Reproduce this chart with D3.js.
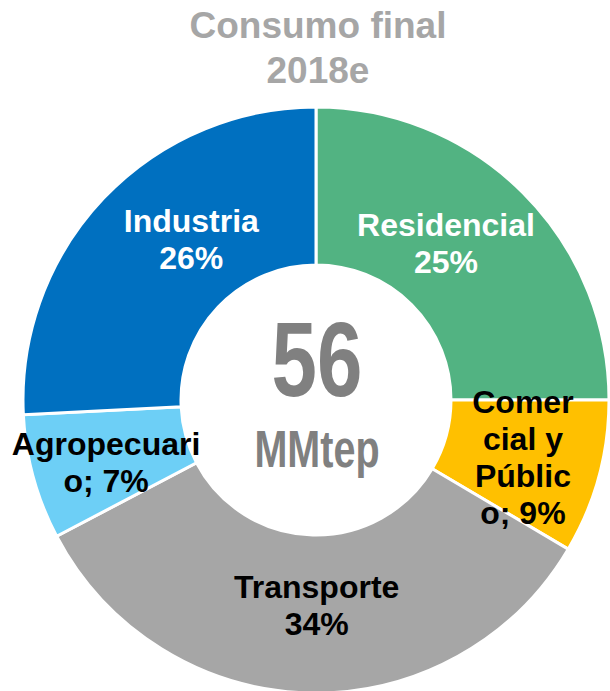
<!DOCTYPE html>
<html>
<head>
<meta charset="utf-8">
<script src="https://cdn.jsdelivr.net/npm/d3@7"></script>
<style>
  body { margin: 0; background: #fff; }
  text { font-family: "Liberation Sans", Arial, sans-serif; font-weight: bold; }
</style>
</head>
<body>
<div id="chart-area"></div>
<script>
// sectores de consumo final 2018e (orden horario desde arriba)
var sectors = ["Residencial", "Comercial y Público", "Transporte", "Agropecuario", "Industria"];
var shares = [25.0, 8.5, 33.8, 6.9, 25.8];
// como se parte cada etiqueta en lineas (la ultima lleva el %)
var labelLines = [["Residencial"], ["Comer", "cial y", "Públic", "o;"], ["Transporte"], ["Agropecuari", "o;"], ["Industria"]];
var colors = ["#52b382", "#ffc000", "#a6a6a6", "#6dcff6", "#0070c0"];
var textColors = ["#fff", "#000", "#000", "#000", "#fff"];
var total = "56";
var unit = "MMtep";

var width = 610, height = 691;
var cx = 316, cy = 400, rOuter = 293, rInner = 135;

// pequeños desplazamientos de las etiquetas respecto al centroide
var nudge = [[-21, -6], [1, 1], [6, -8], [-4, 6], [30, -14]];

var svg = d3.select("#chart-area")
    .append("svg")
    .attr("width", width)
    .attr("height", height);

// titulo
svg.append("text")
    .attr("x", 318).attr("y", 38)
    .attr("text-anchor", "middle")
    .attr("font-size", 37)
    .attr("fill", "#a6a6a6")
    .text("Consumo final");
svg.append("text")
    .attr("x", 318).attr("y", 83)
    .attr("text-anchor", "middle")
    .attr("font-size", 37)
    .attr("fill", "#a6a6a6")
    .text("2018e");

var pie = d3.pie().sort(null).value(d => d);
var arcs = pie(shares);

var arc = d3.arc().innerRadius(rInner).outerRadius(rOuter);
var labelArc = d3.arc().innerRadius(134).outerRadius(293);

var g = svg.append("g").attr("transform", "translate(" + cx + "," + cy + ")");

g.selectAll("path")
    .data(arcs)
    .enter()
    .append("path")
    .attr("d", arc)
    .attr("fill", (d, i) => colors[i])
    .attr("stroke", "#fff")
    .attr("stroke-width", 3);

// etiquetas
var lineH = 37;
arcs.forEach(function (d, i) {
    var c = labelArc.centroid(d);
    var lines = labelLines[i].slice();
    var pct = Math.round(d.data) + "%";
    if (lines.length > 1) {
        lines[lines.length - 1] = lines[lines.length - 1] + " " + pct;
    } else {
        lines.push(pct);
    }
    var x = c[0] + nudge[i][0];
    var y0 = c[1] - (lines.length - 1) * lineH / 2 + 11.5 + nudge[i][1];
    var t = g.append("text")
        .attr("text-anchor", "middle")
        .attr("font-size", 32)
        .attr("fill", textColors[i]);
    lines.forEach(function (l, k) {
        t.append("tspan")
            .attr("x", x)
            .attr("y", y0 + k * lineH)
            .text(l);
    });
});

// total en el centro (letra estrecha)
g.append("text")
    .attr("transform", "translate(1,-4) scale(0.77,1)")
    .attr("text-anchor", "middle")
    .attr("font-size", 106)
    .attr("fill", "#808080")
    .text(total);
g.append("text")
    .attr("transform", "translate(1,67) scale(0.76,1)")
    .attr("text-anchor", "middle")
    .attr("font-size", 52)
    .attr("fill", "#808080")
    .text(unit);
</script>
</body>
</html>
